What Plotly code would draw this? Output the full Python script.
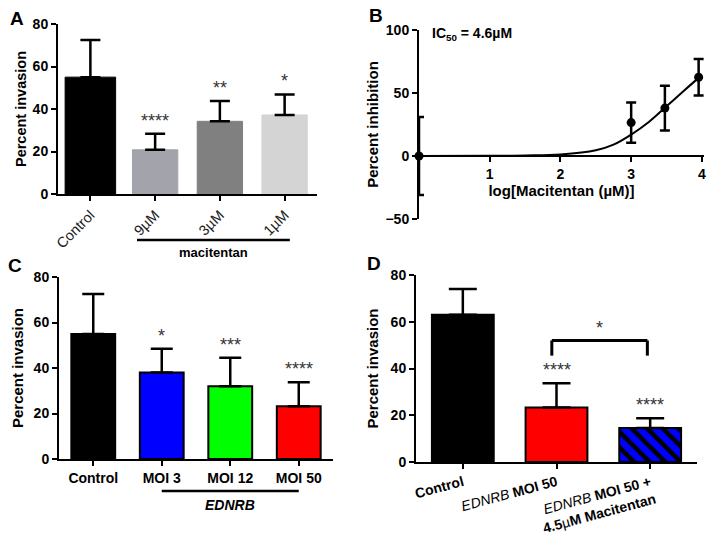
import plotly.graph_objects as go

# ---------------- data ----------------
# Panel A
a_categories = ["Control", "9µM", "3µM", "1µM"]
a_values = [55.0, 20.8, 34.2, 37.2]
a_errors = [17.5, 7.5, 9.6, 9.6]
a_colors = ["#000000", "#a3a3ab", "#808080", "#d4d4d4"]
a_stars = ["", "****", "**", "*"]

# Panel B
b_log_conc = [0.0, 3.0, 3.477, 3.954]
b_inhibition = [0.0, 26.5, 38.0, 62.5]
b_errors = [31.0, 16.0, 17.7, 14.5]
b_curve_x = [0.0, 1.0, 1.5, 2.0, 2.5, 2.75, 3.0, 3.25, 3.5, 3.75, 3.954]
b_curve_y = [0.0, 0.1, 0.4, 1.2, 4.5, 9.0, 17.0, 27.0, 39.5, 52.0, 62.0]

# Panel C
c_categories = ["Control", "MOI 3", "MOI 12", "MOI 50"]
c_values = [55.0, 38.0, 32.0, 23.2]
c_errors = [17.5, 10.5, 12.5, 10.5]
c_colors = ["#000000", "#0000ff", "#00ff00", "#ff0000"]
c_stars = ["", "*", "***", "****"]

# Panel D
d_categories = ["<b>Control</b>",
                "<i>EDNRB</i> <b>MOI 50</b>",
                "<i>EDNRB</i> <b>MOI 50 +</b><br><b>4.5</b>µ<b>M Macitentan</b>"]
d_values = [63.0, 23.3, 14.5]
d_errors = [11.0, 10.4, 4.2]
d_colors = ["#000000", "#ff0000", "#0000ff"]
d_hatched = [False, False, True]
d_stars = ["", "****", "****"]

FONT = "Arial, Liberation Sans, sans-serif"

fig = go.Figure()

# ---------------- traces ----------------
a_x = list(range(len(a_categories)))
fig.add_trace(go.Bar(
    x=a_x, y=a_values, width=[0.78, 0.7, 0.7, 0.7],
    marker=dict(color=a_colors, line=dict(color=a_colors, width=1)),
    error_y=dict(type="data", array=a_errors, arrayminus=[0] * len(a_values),
                 symmetric=False, color="black", thickness=2.5, width=10),
    xaxis="x", yaxis="y", showlegend=False))

fig.add_trace(go.Scatter(
    x=b_curve_x, y=b_curve_y, mode="lines", line=dict(color="black", width=2, shape="spline"),
    xaxis="x2", yaxis="y2", showlegend=False, cliponaxis=False))
fig.add_trace(go.Scatter(
    x=b_log_conc, y=b_inhibition, mode="markers",
    marker=dict(color="black", size=9),
    error_y=dict(type="data", array=b_errors, color="black", thickness=2.5, width=5),
    xaxis="x2", yaxis="y2", showlegend=False, cliponaxis=False))

c_x = list(range(len(c_categories)))
fig.add_trace(go.Bar(
    x=c_x, y=c_values, width=0.64,
    marker=dict(color=c_colors, line=dict(color="black", width=2)),
    error_y=dict(type="data", array=c_errors, arrayminus=[0] * len(c_values),
                 symmetric=False, color="black", thickness=2.5, width=11),
    xaxis="x3", yaxis="y3", showlegend=False))

d_x = list(range(len(d_categories)))
for i in d_x:
    marker = dict(color=d_colors[i], line=dict(color="black", width=2))
    if d_hatched[i]:
        marker["pattern"] = dict(shape="\\", fgcolor="#000000", fgopacity=1,
                                 size=11, solidity=0.4, fillmode="overlay")
    fig.add_trace(go.Bar(
        x=[d_x[i]], y=[d_values[i]], width=0.66, marker=marker,
        error_y=dict(type="data", array=[d_errors[i]], arrayminus=[0],
                     symmetric=False, color="black", thickness=2.5, width=14),
        xaxis="x4", yaxis="y4", showlegend=False))

# ---------------- axes ----------------
def ax(**kw):
    base = dict(showline=True, linecolor="black", linewidth=2, ticks="outside",
                ticklen=5, tickwidth=2, tickcolor="black", showgrid=False,
                zeroline=False, fixedrange=True, automargin=False)
    base.update(kw)
    return base

tick_bold = dict(family=FONT, size=14, color="black", weight="bold")
title_bold = dict(family=FONT, size=15, color="black", weight="bold")

fig.update_layout(
    width=708, height=536, margin=dict(l=0, r=0, t=0, b=0, autoexpand=False),
    paper_bgcolor="white", plot_bgcolor="white", barmode="overlay",
    font=dict(family=FONT, color="black"),
    xaxis=ax(domain=[58 / 708, 317 / 708], anchor="y", range=[-0.5, 3.5],
             tickvals=a_x, ticktext=a_categories, tickangle=-45,
             tickfont=dict(family=FONT, size=14.5, color="#222")),
    yaxis=ax(domain=[1 - 194 / 536, 1 - 24 / 536], anchor="x", range=[0, 80],
             tickvals=[0, 20, 40, 60, 80], tickfont=tick_bold,
             title=dict(text="Percent invasion", font=dict(family=FONT, size=14.5, color="black", weight="bold"), standoff=3)),
    xaxis2=ax(domain=[419 / 708, 704 / 708], anchor="free", position=0.709,
              range=[0, 4.03], tickvals=[1, 2, 3, 4], tickfont=tick_bold,
              title=dict(text="log[Macitentan (µM)]", font=title_bold, standoff=4)),
    yaxis2=ax(domain=[1 - 219 / 536, 1 - 30 / 536], anchor="x2", range=[-50, 100],
              tickvals=[-50, 0, 50, 100], tickfont=tick_bold,
              title=dict(text="Percent inhibition", font=title_bold, standoff=3)),
    xaxis3=ax(domain=[59 / 708, 333 / 708], anchor="y3", range=[-0.5, 3.5],
              tickvals=c_x, ticktext=c_categories, tickfont=tick_bold),
    yaxis3=ax(domain=[1 - 459 / 536, 1 - 277 / 536], anchor="x3", range=[0, 80],
              tickvals=[0, 20, 40, 60, 80], tickfont=tick_bold,
              title=dict(text="Percent invasion", font=title_bold, standoff=6)),
    xaxis4=ax(domain=[416 / 708, 697 / 708], anchor="y4", range=[-0.5, 2.5],
              tickvals=d_x, ticktext=d_categories, tickangle=-15,
              tickfont=dict(family=FONT, size=14, color="black")),
    yaxis4=ax(domain=[1 - 462 / 536, 1 - 275 / 536], anchor="x4", range=[0, 80],
              tickvals=[0, 20, 40, 60, 80], tickfont=tick_bold,
              title=dict(text="Percent invasion", font=title_bold, standoff=8)),
)

# ---------------- annotations ----------------
ann = []
star_font = dict(family=FONT, size=18, color="#333")
for i, s in enumerate(a_stars):
    if s:
        ann.append(dict(x=a_x[i], y=a_values[i] + a_errors[i] + 0.5, xref="x", yref="y",
                        text=s, showarrow=False, yanchor="bottom", font=star_font))
for i, s in enumerate(c_stars):
    if s:
        ann.append(dict(x=c_x[i], y=c_values[i] + c_errors[i] + 0.5, xref="x3", yref="y3",
                        text=s, showarrow=False, yanchor="bottom", font=star_font))
for i, s in enumerate(d_stars):
    if s:
        ann.append(dict(x=d_x[i], y=d_values[i] + d_errors[i] + 0.5, xref="x4", yref="y4",
                        text=s, showarrow=False, yanchor="bottom", font=star_font))
# bracket star in D
ann.append(dict(x=1.46, y=52.0, xref="x4", yref="y4", text="*", showarrow=False,
                yanchor="bottom", font=star_font))

# group labels
ann.append(dict(x=1.9, y=1 - 243 / 536, xref="x", yref="paper", text="macitentan",
                showarrow=False, yanchor="top",
                font=dict(family=FONT, size=13, color="black", weight="bold")))
ann.append(dict(x=2.0, y=1 - 495 / 536, xref="x3", yref="paper", text="<i>EDNRB</i>",
                showarrow=False, yanchor="top",
                font=dict(family=FONT, size=14, color="black", weight="bold")))

# IC50 label
ann.append(dict(x=0.15, y=97, xref="x2", yref="y2", text="IC<sub>50</sub> = 4.6µM",
                showarrow=False, xanchor="left", yanchor="middle",
                font=dict(family=FONT, size=14, color="black", weight="bold")))

# panel letters
for letter, px, py in [("A", 17, 18), ("B", 376, 16), ("C", 15, 266), ("D", 374, 263)]:
    ann.append(dict(x=px / 708, y=1 - py / 536, xref="paper", yref="paper", text=letter,
                    showarrow=False, xanchor="center", yanchor="middle",
                    font=dict(family=FONT, size=19, color="black", weight="bold")))

fig.update_layout(annotations=ann)

# ---------------- shapes ----------------
shapes = [
    dict(type="line", xref="x", yref="paper", x0=0.72, x1=3.08,
         y0=1 - 240 / 536, y1=1 - 240 / 536, line=dict(color="black", width=2.5)),
    dict(type="line", xref="x3", yref="paper", x0=1.0, x1=3.0,
         y0=1 - 491 / 536, y1=1 - 491 / 536, line=dict(color="black", width=2.5)),
    dict(type="line", xref="x4", yref="y4", x0=0.95, x1=0.95, y0=45.5, y1=52,
         line=dict(color="black", width=3)),
    dict(type="line", xref="x4", yref="y4", x0=0.95, x1=1.97, y0=52, y1=52,
         line=dict(color="black", width=3)),
    dict(type="line", xref="x4", yref="y4", x0=1.97, x1=1.97, y0=45.5, y1=52,
         line=dict(color="black", width=3)),
]
fig.update_layout(shapes=shapes)

fig.write_html("out.html", config={"displayModeBar": False},
               post_script="document.body.style.margin='0';document.body.style.padding='0';")
